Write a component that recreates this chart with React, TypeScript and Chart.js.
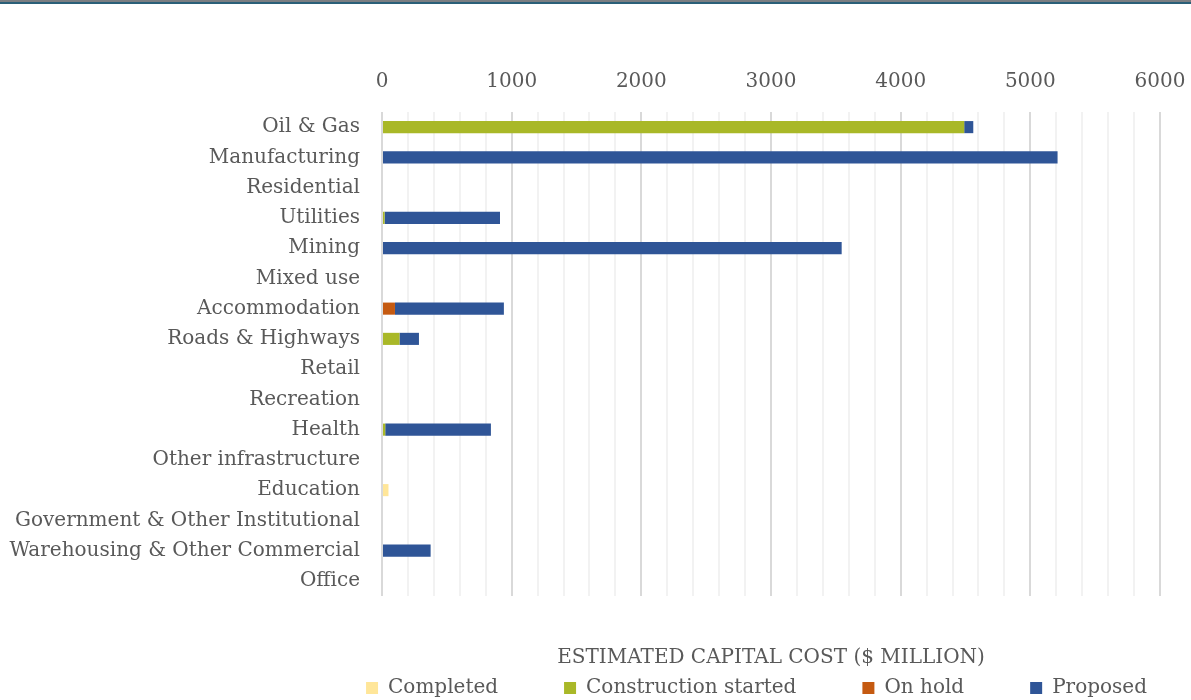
import React, { useEffect, useRef } from "react";
import { Chart, registerables } from "chart.js";

Chart.register(...registerables);

const categories = [
  "Oil & Gas",
  "Manufacturing",
  "Residential",
  "Utilities",
  "Mining",
  "Mixed use",
  "Accommodation",
  "Roads & Highways",
  "Retail",
  "Recreation",
  "Health",
  "Other infrastructure",
  "Education",
  "Government & Other Institutional",
  "Warehousing & Other Commercial",
  "Office",
];
const completed = [0, 0, 0, 0, 0, 0, 0, 0, 0, 0, 0, 0, 50, 0, 0, 0];
const constructionStarted = [4490, 0, 0, 20, 0, 0, 0, 135, 0, 0, 25, 0, 0, 0, 0, 0];
const onHold = [0, 0, 0, 0, 0, 0, 100, 0, 0, 0, 0, 0, 0, 0, 0, 0];
const proposed = [70, 5210, 0, 890, 3545, 0, 840, 150, 0, 0, 815, 0, 0, 0, 375, 0];
const seriesNames = ["Completed", "Construction started", "On hold", "Proposed"];
const seriesColors = ["#ffe699", "#a9b828", "#c55a11", "#2f5597"];
const axisTitle = "ESTIMATED CAPITAL COST ($ MILLION)";
const FONT = "'DejaVu Serif', serif";
const FS = 20;
const TEXT = "#595959";

const frame = {
  id: "frame",
  beforeDraw(chart: any) {
    const ctx = chart.ctx;
    ctx.save();
    ctx.fillStyle = "#ffffff";
    ctx.fillRect(0, 0, chart.width, chart.height);
    ctx.fillStyle = "#7b7e82";
    ctx.fillRect(0, 0, chart.width, 2);
    ctx.fillStyle = "#2a5f78";
    ctx.fillRect(0, 2, chart.width, 2);
    ctx.restore();
  },
};

const LEGEND_PAD = 66;
const legendFix = {
  id: "legendFix",
  beforeLayout(chart: any) {
    const lg = chart.legend;
    if (lg && !lg._fitPatched) {
      const f = lg.fit;
      lg.fit = function () {
        f.call(this);
        this.height = 30;
      };
      lg._fitPatched = true;
    }
  },
  afterLayout(chart: any) {
    const lg = chart.legend;
    if (lg) {
      const dx = 157;
      lg.left += dx;
      lg.right += dx;
      lg.top = 687 - LEGEND_PAD - 9;
      lg.bottom = chart.height;
    }
  },
};

export default function App() {
  const ref = useRef<HTMLCanvasElement | null>(null);
  useEffect(() => {
    document.body.style.margin = "0";
    const values = [completed, constructionStarted, onHold, proposed];
    const chart = new Chart(ref.current as HTMLCanvasElement, {
      type: "bar",
      data: {
        labels: categories,
        datasets: seriesNames.map((n, i) => ({
          label: n,
          data: values[i],
          backgroundColor: seriesColors[i],
          borderWidth: 0,
          barPercentage: 0.4,
          categoryPercentage: 1,
        })),
      },
      plugins: [frame, legendFix],
      options: {
        animation: false,
        responsive: false,
        indexAxis: "y",
        layout: { padding: { top: 52, left: 8, right: 0, bottom: 0 } },
        font: { family: FONT },
        scales: {
          x: {
            position: "top",
            stacked: true,
            min: 0,
            max: 6000,
            border: { display: false },
            grid: {
              drawTicks: false,
              lineWidth: 2,
              color: (c: any) =>
                c.tick && c.tick.value % 1000 === 0 ? "#d9d9d9" : "#f2f2f2",
            },
            ticks: {
              stepSize: 200,
              autoSkip: false,
              maxRotation: 0,
              padding: 18,
              color: TEXT,
              font: { family: FONT, size: FS },
              callback: (v: any) => (Number(v) % 1000 === 0 ? String(v) : ""),
            },
            afterFit: (s: any) => {
              s.paddingRight = 31;
            },
          },
          x2: {
            position: "bottom",
            axis: "x",
            min: 0,
            max: 6000,
            border: { display: false },
            grid: { display: false, drawTicks: false },
            ticks: { display: false },
            title: {
              display: true,
              text: axisTitle,
              color: TEXT,
              font: { family: FONT, size: FS },
              padding: { top: 50, bottom: 0 },
            },
          },
          y: {
            stacked: true,
            border: { display: false },
            grid: { display: false, drawTicks: false },
            ticks: {
              autoSkip: false,
              padding: 22,
              color: TEXT,
              font: { family: FONT, size: FS },
            },
            afterFit: (s: any) => {
              s.width = 374;
            },
          },
        },
        plugins: {
          legend: {
            position: "bottom",
            labels: {
              boxWidth: 12,
              boxHeight: 12,
              padding: LEGEND_PAD,
              color: TEXT,
              font: { family: FONT, size: FS },
            },
          },
          tooltip: { enabled: false },
        },
      } as any,
    });
    return () => chart.destroy();
  }, []);
  return (
    <div style={{ width: 1191, height: 700 }}>
      <canvas ref={ref} width={1191} height={700} style={{ display: "block" }} />
    </div>
  );
}
